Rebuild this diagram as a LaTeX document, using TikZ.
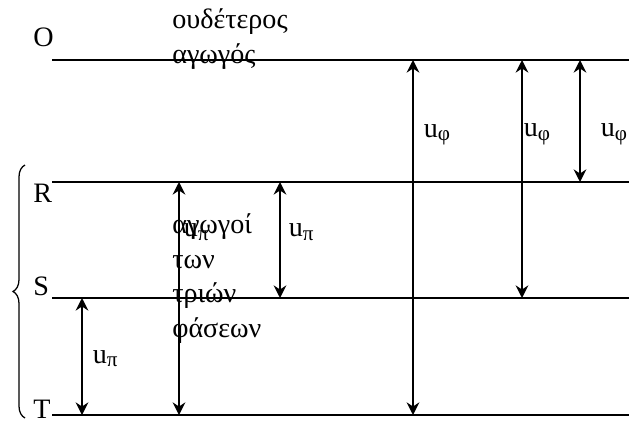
\documentclass[tikz,border=0pt]{standalone}
\usepackage{fontspec}
\setmainfont{Liberation Serif}
\usepackage{tikz}
\usetikzlibrary{arrows.meta, decorations.pathreplacing}

\newcommand{\lowidx}[1]{\raisebox{-0.28ex}{\fontsize{15}{15}\selectfont #1}}

\begin{document}
\begin{tikzpicture}[
  wire/.style={line width=1.2pt},
  volt/.style={{Stealth[length=9pt,width=9pt,inset=3pt]}-{Stealth[length=9pt,width=9pt,inset=3pt]}, line width=1.2pt},
  phs/.style={font=\fontsize{20}{24.5}\selectfont, inner sep=0pt, anchor=base west},
  note/.style={font=\fontsize{20}{24.5}\selectfont, align=left, inner sep=0pt, anchor=base west}
]
\useasboundingbox (0,0) rectangle (15.725,10.525);

%% Wires
\coordinate (O0) at (1.3, 9.025);  \coordinate (O1) at (15.725, 9.025);
\coordinate (R0) at (1.3, 5.975);  \coordinate (R1) at (15.725, 5.975);
\coordinate (S0) at (1.3, 3.075);  \coordinate (S1) at (15.725, 3.075);
\coordinate (T0) at (1.3, 0.15);   \coordinate (T1) at (15.725, 0.15);
\draw[wire] (O0) -- (O1);
\draw[wire] (R0) -- (R1);
\draw[wire] (S0) -- (S1);
\draw[wire] (T0) -- (T1);

%% Wire names
\node[phs] (lo) at (0.825, 9.35)  {O};
\node[phs] (lr) at (0.825, 5.475) {R};
\node[phs] (ls) at (0.825, 3.15)  {S};
\node[phs] (lt) at (0.825, 0.075) {T};

%% Brace round the three phases
\draw[line width=0.9pt, decorate, decoration={brace, amplitude=0.3cm}]
  (0.625, 0.075) -- (0.625, 6.4);

%% Texts (base = last line)
\node[note] (neut) at (4.3, 8.95) {ουδέτερος\\αγωγός};
\node[note] (phase) at (4.3, 2.1) {αγωγοί\\των\\τριών\\φάσεων};

%% Line voltages
\draw[volt] (2.05,0 |- S0) -- node[phs, pos=0.556, xshift=0.25cm] (up1) {u\lowidx{π}} (2.05,0 |- T0);
\draw[volt] (4.475,0 |- R0) -- node[phs, pos=0.236, xshift=0.1cm] (up2) {u\lowidx{π}} (4.475,0 |- T0);
\draw[volt] (7.0,0 |- R0) -- node[phs, pos=0.474, xshift=0.2cm] (up3) {u\lowidx{π}} (7.0,0 |- S0);

%% Phase voltages
\draw[volt] (10.325,0 |- O0) -- node[phs, pos=0.217, xshift=0.25cm] (uf1) {u\lowidx{φ}} (10.325,0 |- T0);
\draw[volt] (13.05,0 |- O0) -- node[phs, pos=0.3235, xshift=0.025cm] (uf2) {u\lowidx{φ}} (13.05,0 |- S0);
\draw[volt] (14.5,0 |- O0) -- node[phs, pos=0.631, xshift=0.5cm] (uf3) {u\lowidx{φ}} (14.5,0 |- R0);

\end{tikzpicture}
\end{document}
